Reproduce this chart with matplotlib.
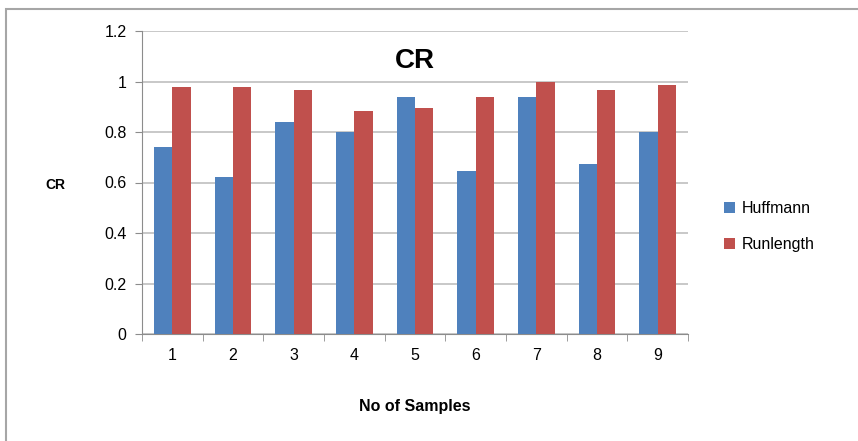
import numpy as np
import matplotlib
matplotlib.use("Agg")
import matplotlib.pyplot as plt
from matplotlib.patches import Rectangle

# data
samples = ["1", "2", "3", "4", "5", "6", "7", "8", "9"]
huffmann = [0.74, 0.62, 0.84, 0.80, 0.94, 0.645, 0.94, 0.675, 0.80]
runlength = [0.98, 0.98, 0.965, 0.885, 0.895, 0.94, 1.0, 0.965, 0.985]

blue = "#4F81BD"
red = "#C0504D"
grid_col = "#BFBFBF"

plt.rcParams['font.family'] = ['Liberation Sans', 'DejaVu Sans']

fig = plt.figure(figsize=(8.58, 4.41), dpi=100)
ax = fig.add_axes([142/858, 1 - 334/441, (688 - 142)/858, (334 - 31)/441])

x = np.arange(len(samples))
w = 0.3
ax.bar(x - w/2, huffmann, w, color=blue, label="Huffmann", zorder=3)
ax.bar(x + w/2, runlength, w, color=red, label="Runlength", zorder=3)

ax.set_xlim(-0.5, len(samples) - 0.5)
ax.set_ylim(0, 1.2)
ax.set_yticks(np.arange(0, 1.21, 0.2))
ax.set_yticklabels(["0", "0.2", "0.4", "0.6", "0.8", "1", "1.2"])
ax.yaxis.grid(True, color=grid_col, linewidth=1.2, zorder=0)
ax.set_axisbelow(True)

# category labels centered, tick marks at category boundaries
ax.set_xticks(x)
ax.set_xticklabels(samples)
ax.set_xticks(np.arange(-0.5, len(samples)), minor=True)
ax.tick_params(axis="x", which="major", length=0, pad=10, labelsize=11.5)
ax.tick_params(axis="x", which="minor", length=5, color="#8C8C8C", direction="out")
ax.tick_params(axis="y", length=5, color="#8C8C8C", labelsize=11.5, pad=6)

for side in ["top", "right"]:
    ax.spines[side].set_visible(False)
for side in ["left", "bottom"]:
    ax.spines[side].set_color("#8C8C8C")

ax.text(0.5, 0.945, "CR", transform=ax.transAxes, ha="center", va="top",
        fontsize=20, fontweight="bold")
fig.text(55/858, 1 - 185/441, "CR", ha="center", va="center",
         fontsize=10, fontweight="bold")
fig.text(415/858, 1 - 407/441, "No of Samples", ha="center", va="center",
         fontsize=11.5, fontweight="bold")

ax.legend(loc="center left", bbox_to_anchor=(1.04, 0.355), frameon=False,
          fontsize=11.5, handlelength=0.7, handleheight=0.7,
          handletextpad=0.4, labelspacing=1.3)

# outer chart border
fig.patches.append(Rectangle((6/858, -0.05), 1.0, 1 - 9/441 + 0.05,
                             transform=fig.transFigure, fill=False,
                             edgecolor="#A6A6A6", linewidth=1.5))

fig.savefig("out.png", dpi=100)
